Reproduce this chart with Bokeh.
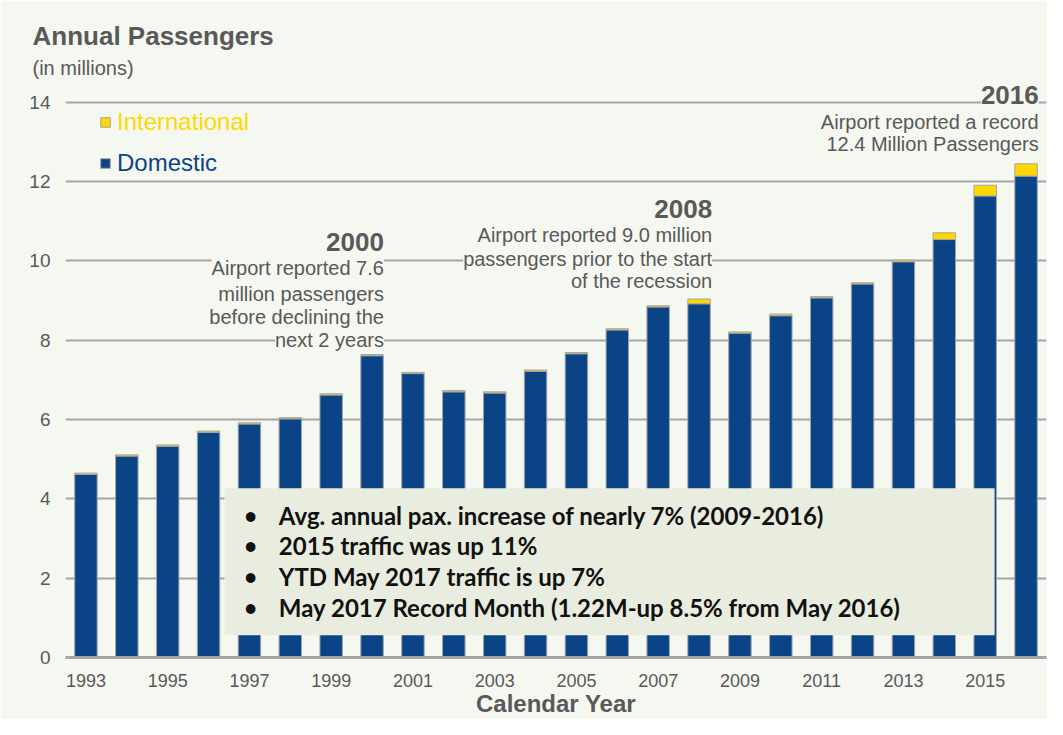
from bokeh.plotting import figure
from bokeh.models import (Label, BoxAnnotation, Legend, LegendItem, FixedTicker,
                          Range1d, ColumnDataSource, Title)
from bokeh.embed import file_html
from bokeh.resources import INLINE

# ---- data ----
years = list(range(1993, 2017))
domestic = [4.62, 5.08, 5.33, 5.68, 5.89, 6.02, 6.62, 7.61, 7.16, 6.70, 6.67, 7.22,
            7.66, 8.26, 8.84, 8.92, 8.18, 8.62, 9.07, 9.42, 9.98, 10.54, 11.64, 12.14]
international = [0.03, 0.03, 0.03, 0.03, 0.03, 0.03, 0.03, 0.03, 0.03, 0.03, 0.03, 0.03,
                 0.03, 0.03, 0.03, 0.12, 0.03, 0.04, 0.03, 0.03, 0.04, 0.17, 0.27, 0.31]
x_ticks = list(range(1993, 2016, 2))
y_ticks = list(range(0, 15, 2))
bullets = [
    "Avg. annual pax. increase of nearly 7% (2009-2016)",
    "2015 traffic was up 11%",
    "YTD May 2017 traffic is up 7%",
    "May 2017 Record Month (1.22M-up 8.5% from May 2016)",
]

BG = "#f5f7f1"
BLUE = "#0b4486"
YELLOW = "#ffd700"
GREY = "#595959"
GRID = "#a6a6a6"
FONT = "Liberation Sans"

src = ColumnDataSource(dict(year=years, dom=domestic, intl=international))

p = figure(width=1047, height=719, x_range=Range1d(1992.5, 2016.5),
           y_range=Range1d(0, 14.50), output_backend="svg", toolbar_location=None,
           min_border_left=65, min_border_right=1, min_border_top=82,
           min_border_bottom=58, background_fill_color=BG, border_fill_color=BG)
p.outline_line_color = None
p.xgrid.grid_line_color = None
p.ygrid.grid_line_color = GRID
p.ygrid.grid_line_width = 2
p.ygrid.ticker = FixedTicker(ticks=y_ticks)

p.yaxis.ticker = FixedTicker(ticks=y_ticks)
p.yaxis.axis_line_color = None
p.yaxis.major_tick_line_color = None
p.yaxis.minor_tick_line_color = None
p.yaxis.major_label_text_font = FONT
p.yaxis.major_label_text_font_size = "19px"
p.yaxis.major_label_text_color = GREY
p.yaxis.major_label_standoff = 9

p.xaxis.ticker = FixedTicker(ticks=x_ticks)
p.xaxis.axis_line_color = GRID
p.xaxis.axis_line_width = 3
p.xaxis.major_tick_line_color = None
p.xaxis.minor_tick_line_color = None
p.xaxis.major_label_text_font = FONT
p.xaxis.major_label_text_font_size = "18px"
p.xaxis.major_label_text_color = GREY
p.xaxis.major_label_standoff = 10
p.xaxis.axis_label = "Calendar Year"
p.xaxis.axis_label_text_font = FONT
p.xaxis.axis_label_text_font_size = "24px"
p.xaxis.axis_label_text_font_style = "bold"
p.xaxis.axis_label_text_color = GREY
p.xaxis.axis_label_standoff = 0

# titles (first added sits nearest the frame)
p.add_layout(Title(text="(in millions)", align="left", offset=-33, standoff=8,
                   text_font=FONT, text_font_size="20px", text_font_style="normal",
                   text_color=GREY), "above")
p.add_layout(Title(text="Annual Passengers", align="left", offset=-33, standoff=0,
                   text_font=FONT, text_font_size="26px", text_font_style="bold",
                   text_color=GREY), "above")

rs = p.vbar_stack(["dom", "intl"], x="year", width=0.55, source=src,
                  color=[BLUE, YELLOW], line_color="#a5a5a5", line_width=1)

# legends
leg1 = Legend(items=[LegendItem(label="International", renderers=[rs[1]])],
              location=(34, 521), padding=0, margin=0, label_standoff=6,
              glyph_width=12, glyph_height=12, label_text_font=FONT,
              label_text_font_size="24px", label_text_color=YELLOW,
              background_fill_alpha=0, border_line_color=None)
leg2 = Legend(items=[LegendItem(label="Domestic", renderers=[rs[0]])],
              location=(34, 480), padding=0, margin=0, label_standoff=6,
              glyph_width=12, glyph_height=12, label_text_font=FONT,
              label_text_font_size="24px", label_text_color=BLUE,
              background_fill_alpha=0, border_line_color=None)
p.add_layout(leg1)
p.add_layout(leg2)

def lab(x, y, text, size="20px", bold=False, align="right", color=GREY, bg=True, font=FONT):
    kw = dict(x=x, y=y, text=text, text_font=font, text_font_size=size,
              text_color=color, text_align=align, text_baseline="middle",
              text_font_style="bold" if bold else "normal")
    if bg:
        kw.update(background_fill_color=BG, background_fill_alpha=1)
    p.add_layout(Label(**kw))

# annotations
lab(2000.29, 10.47, "2000", size="26px", bold=True)
for yy, t in zip([9.82, 9.17, 8.58, 8.01],
                 ["Airport reported 7.6", "million passengers", "before declining the", "next 2 years"]):
    lab(2000.29, yy, t)
lab(2008.32, 11.32, "2008", size="26px", bold=True)
for yy, t in zip([10.66, 10.06, 9.49],
                 ["Airport reported 9.0 million", "passengers prior to the start", "of the recession"]):
    lab(2008.32, yy, t)
lab(2016.31, 14.18, "2016", size="26px", bold=True)
for yy, t in zip([13.51, 12.94], ["Airport reported a record", "12.4 Million Passengers"]):
    lab(2016.31, yy, t)

# text box
p.add_layout(BoxAnnotation(left=1996.39, right=2015.23, top=4.27, bottom=0.56,
                           fill_color="#e9eddf", fill_alpha=1, line_color=None))
for yy, t in zip([3.58, 2.82, 2.04, 1.26], bullets):
    lab(1997.03, yy, "\u2022", size="22px", bold=True, align="center", color="#111111",
        bg=False, font="Lato")
    lab(1997.72, yy, t, size="24px", bold=True, align="left", color="#111111",
        bg=False, font="Lato")

open("out.html", "w").write(file_html(p, INLINE))
